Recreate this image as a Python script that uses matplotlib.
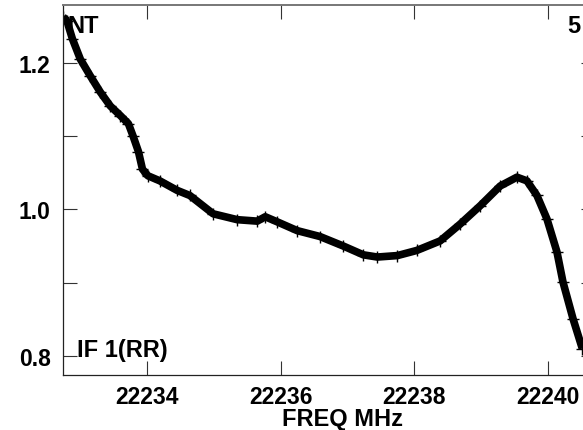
import numpy as np
import matplotlib.pyplot as plt
from matplotlib.ticker import MultipleLocator

plt.rcParams["font.family"] = ["Liberation Sans", "DejaVu Sans"]
plt.rcParams["font.weight"] = "bold"

# Spectrum (frequency in MHz, amplitude)
freq = [22232.74, 22232.80, 22232.88, 22233.00, 22233.15, 22233.30, 22233.45,
        22233.60, 22233.72, 22233.79, 22233.87, 22233.93, 22234.01, 22234.19,
        22234.45, 22234.64, 22234.99, 22235.35, 22235.65, 22235.77, 22235.95,
        22236.25, 22236.59, 22236.94, 22237.24, 22237.45, 22237.75, 22238.04,
        22238.39, 22238.69, 22238.99, 22239.29, 22239.54, 22239.69, 22239.84,
        22239.99, 22240.14, 22240.23, 22240.38, 22240.52]
amp = [1.263, 1.257, 1.233, 1.205, 1.182, 1.160, 1.141,
       1.128, 1.117, 1.100, 1.079, 1.055, 1.046, 1.039,
       1.026, 1.019, 0.994, 0.986, 0.984, 0.990, 0.983,
       0.971, 0.963, 0.950, 0.938, 0.935, 0.937, 0.944,
       0.957, 0.980, 1.005, 1.032, 1.044, 1.039, 1.019,
       0.987, 0.942, 0.901, 0.851, 0.810]

xticks = [22234, 22236, 22238, 22240]
yticks = [0.8, 1.0, 1.2]

W, H = 583, 431
fig = plt.figure(figsize=(W / 100, H / 100), dpi=100)
ax = fig.add_axes([63 / W, 1 - 376 / H, (595 - 63) / W, (376 - 6) / H])

ax.plot(freq, amp, "-", color="black", lw=5.5, solid_capstyle="butt",
        solid_joinstyle="round")
ax.plot(freq, amp, "+", color="black", ms=9, mew=1.0)

ax.set_xlim(22232.74, 22240.71)
ax.set_ylim(0.774, 1.279)
ax.set_xticks(xticks)
ax.set_yticks(yticks)
ax.yaxis.set_minor_locator(MultipleLocator(0.1))
ax.set_yticklabels([f"{v:.1f}" for v in yticks])

ax.tick_params(axis="both", which="both", direction="in", length=10, width=0.8,
               color="#333333", labelsize=16.5, top=True, right=True)
ax.tick_params(axis="x", pad=7)
ax.tick_params(axis="y", pad=9)
for lab in ax.get_xticklabels() + ax.get_yticklabels():
    lab.set_fontweight("bold")

for side in ["left", "bottom", "right"]:
    ax.spines[side].set_color("#222222")
    ax.spines[side].set_linewidth(0.9)
ax.spines["top"].set_color("#777777")
ax.spines["top"].set_linewidth(1.4)

fig.text(342 / W, 1 - 426 / H, "FREQ MHz", ha="center", va="baseline",
         fontsize=17, fontweight="bold")
fig.text(67 / W, 1 - 33 / H, "NT", ha="left", va="baseline",
         fontsize=17, fontweight="bold")
fig.text(567 / W, 1 - 33 / H, "5", ha="left", va="baseline",
         fontsize=17, fontweight="bold")
fig.text(77 / W, 1 - 357 / H, "IF 1(RR)", ha="left", va="baseline",
         fontsize=17, fontweight="bold")

fig.savefig("out.png", dpi=100)
